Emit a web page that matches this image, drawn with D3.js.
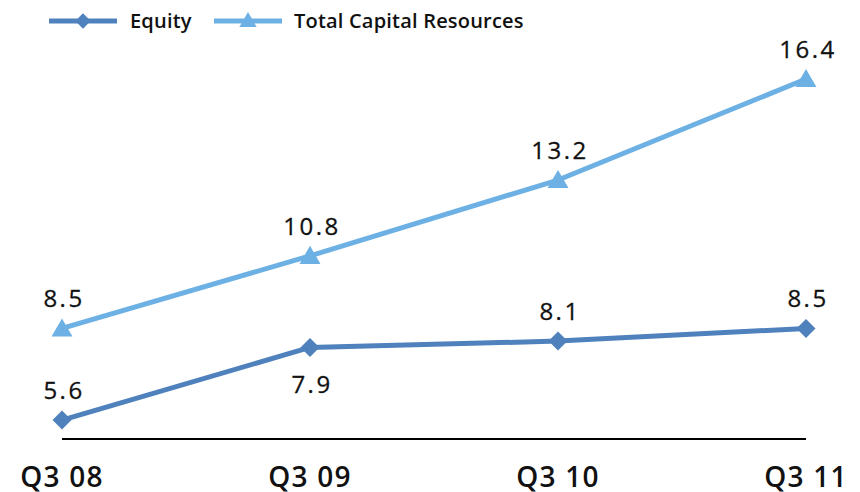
<!DOCTYPE html>
<html>
<head>
<meta charset="utf-8">
<script src="https://cdn.jsdelivr.net/npm/d3@7"></script>
<style>
  html, body { margin: 0; padding: 0; background: #fff; }
  svg { display: block; font-family: "Open Sans", "Noto Sans", sans-serif; }
</style>
</head>
<body>
<svg id="chart" width="860" height="492"></svg>
<script>
// Capital data by quarter
const quarters = ["Q3 08", "Q3 09", "Q3 10", "Q3 11"];
const equity = [5.6, 7.9, 8.1, 8.5];
const totalCapital = [8.5, 10.8, 13.2, 16.4];
const seriesNames = ["Equity", "Total Capital Resources"];
// label placement per point for the equity series: above or below the marker
const equityLabelSide = ["above", "below", "above", "above"];

const colors = { equity: "#4F81BD", total: "#6CB0E4" };

const svg = d3.select("#chart");

const x = d3.scalePoint().domain(quarters).range([62, 806]);
const y = d3.scaleLinear().domain([5, 16.4]).range([439, 79]);

// baseline axis
svg.append("line")
  .attr("x1", x(quarters[0])).attr("x2", x(quarters[quarters.length - 1]))
  .attr("y1", y(5)).attr("y2", y(5))
  .attr("stroke", "#000").attr("stroke-width", 2);

// category labels
svg.append("g").selectAll("text")
  .data(quarters).join("text")
  .attr("x", d => x(d)).attr("y", 487)
  .attr("text-anchor", "middle")
  .attr("font-size", 28).attr("font-weight", 600).attr("letter-spacing", 1.2)
  .attr("fill", "#111")
  .text(d => d);

const line = d3.line().x((d, i) => x(quarters[i])).y(d => y(d));

const diamond = d3.symbol().type(d3.symbolDiamond2).size(230);
const triangle = d3.symbol().type(d3.symbolTriangle).size(190);

function drawSeries(values, color, sym, key) {
  const g = svg.append("g");
  g.append("path").datum(values)
    .attr("d", line).attr("fill", "none")
    .attr("stroke", color).attr("stroke-width", 5)
    .attr("stroke-linejoin", "round");
  g.selectAll("path.m").data(values).join("path")
    .attr("class", "m")
    .attr("d", sym)
    .attr("transform", (d, i) => `translate(${x(quarters[i])},${y(d) + (key === "total" ? 2 : 0)})`)
    .attr("fill", color);
  return g;
}

drawSeries(totalCapital, colors.total, triangle, "total");
drawSeries(equity, colors.equity, diamond, "equity");

const fmt = d3.format(".1f");
const labelStyle = sel => sel
  .attr("text-anchor", "middle")
  .attr("font-size", 24).attr("font-weight", 500)
  .attr("letter-spacing", 2.5).attr("fill", "#111")
  .attr("stroke", "#111").attr("stroke-width", 0.3);

svg.append("g").selectAll("text")
  .data(totalCapital).join("text")
  .attr("x", (d, i) => x(quarters[i]) + 2)
  .attr("y", d => y(d) - 21)
  .call(labelStyle)
  .text(d => fmt(d));

svg.append("g").selectAll("text")
  .data(equity).join("text")
  .attr("x", (d, i) => x(quarters[i]) + 2)
  .attr("y", (d, i) => equityLabelSide[i] === "below" ? y(d) + 46 : y(d) - 21)
  .call(labelStyle)
  .text(d => fmt(d));

// legend
const legend = svg.append("g");
const legendItems = [
  { name: seriesNames[0], color: colors.equity, x0: 49, tx: 130 },
  { name: seriesNames[1], color: colors.total, x0: 214, tx: 294 }
];
legendItems.forEach((it, k) => {
  legend.append("line")
    .attr("x1", it.x0).attr("x2", it.x0 + 68)
    .attr("y1", 21).attr("y2", 21)
    .attr("stroke", it.color).attr("stroke-width", 5);
  legend.append("path")
    .attr("d", k === 0 ? d3.symbol().type(d3.symbolDiamond2).size(150)() : d3.symbol().type(d3.symbolTriangle).size(130)())
    .attr("transform", `translate(${it.x0 + 34},${k === 0 ? 21 : 22})`)
    .attr("fill", it.color);
  legend.append("text")
    .attr("x", it.tx).attr("y", 28)
    .attr("font-size", 20).attr("font-weight", 600).attr("letter-spacing", 0.2)
    .attr("fill", "#111")
    .text(it.name);
});
</script>
</body>
</html>
